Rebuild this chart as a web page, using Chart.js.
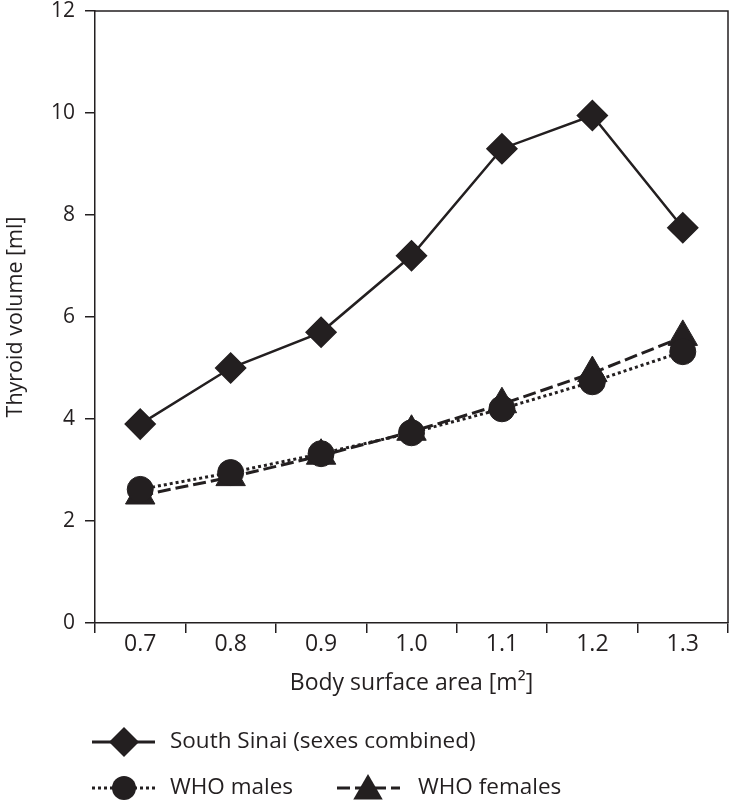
<!DOCTYPE html>
<html>
<head>
<meta charset="utf-8">
<script src="https://cdn.jsdelivr.net/npm/chart.js@4.4.1/dist/chart.umd.min.js"></script>
<style>
  html, body { margin: 0; padding: 0; background: #fff; }
  #wrap { width: 730px; height: 801px; }
</style>
</head>
<body>
<div id="wrap"><canvas id="chart-1"></canvas></div>
<script>
const bsa = ['0.7', '0.8', '0.9', '1.0', '1.1', '1.2', '1.3'];
const southSinai = [3.9, 5.0, 5.7, 7.2, 9.3, 9.95, 7.75];
const whoMales = [2.62, 2.95, 3.32, 3.73, 4.2, 4.73, 5.32];
const whoFemales = [2.5, 2.86, 3.28, 3.75, 4.29, 4.9, 5.61];
const legendNames = ['South Sinai (sexes combined)', 'WHO males', 'WHO females'];

const ink = '#231f20';
Chart.defaults.font.family = "'Open Sans', sans-serif";
Chart.defaults.color = ink;

// top and right edges of the frame
const frame = {
  id: 'frame',
  afterDraw(chart) {
    const a = chart.chartArea, c = chart.ctx;
    c.save();
    c.strokeStyle = ink;
    c.lineWidth = 1.5;
    c.beginPath();
    c.moveTo(a.left, a.top);
    c.lineTo(a.right, a.top);
    c.lineTo(a.right, a.bottom);
    c.stroke();
    c.restore();
  }
};

function sample(c, x1, x2, y, dash) {
  c.beginPath();
  c.setLineDash(dash);
  c.lineWidth = 3;
  c.moveTo(x1, y);
  c.lineTo(x2, y);
  c.stroke();
  c.setLineDash([]);
}

// legend in two rows, drawn by hand
const legendRows = {
  id: 'legendRows',
  afterDraw(chart) {
    const c = chart.ctx;
    c.save();
    c.fillStyle = ink;
    c.strokeStyle = ink;
    c.font = "22.5px 'Open Sans', sans-serif";
    c.textBaseline = 'middle';

    let y = 742;
    sample(c, 92, 155, y, []);
    c.beginPath();
    c.moveTo(124 - 15, y); c.lineTo(124, y - 15); c.lineTo(124 + 15, y); c.lineTo(124, y + 15);
    c.closePath(); c.fill();
    c.fillText(legendNames[0], 170, y);

    y = 788;
    sample(c, 92, 157, y, [3, 3]);
    c.beginPath();
    c.arc(124, y, 12, 0, Math.PI * 2);
    c.fill();
    c.fillText(legendNames[1], 170, y);

    sample(c, 337, 400, y, [13, 5]);
    const r = 17, cx = 368, cy = y + 3;
    c.beginPath();
    c.moveTo(cx, cy - r);
    c.lineTo(cx + r * 0.866, cy + r / 2);
    c.lineTo(cx - r * 0.866, cy + r / 2);
    c.closePath(); c.fill();
    c.fillText(legendNames[2], 418, y);
    c.restore();
  }
};

const ctx1 = document.getElementById('chart-1').getContext('2d');

const myChart = new Chart(ctx1, {
  type: 'line',
  data: {
    labels: bsa,
    datasets: [{
      label: legendNames[0],
      data: southSinai,
      borderColor: ink,
      backgroundColor: ink,
      borderWidth: 2.5,
      pointStyle: 'rectRot',
      pointRadius: 15,
      pointBorderWidth: 1.5,
      tension: 0
    }, {
      label: legendNames[1],
      data: whoMales,
      borderColor: ink,
      backgroundColor: ink,
      borderWidth: 3,
      borderDash: [3, 3],
      pointStyle: 'circle',
      pointRadius: 13,
      pointBorderWidth: 1,
      tension: 0
    }, {
      label: legendNames[2],
      data: whoFemales,
      borderColor: ink,
      backgroundColor: ink,
      borderWidth: 3,
      borderDash: [13, 5],
      pointStyle: 'triangle',
      pointRadius: 17,
      pointBorderWidth: 1,
      tension: 0
    }]
  },
  options: {
    responsive: true,
    maintainAspectRatio: false,
    animation: false,
    layout: { autoPadding: false, padding: { left: 0, right: 2, top: 11, bottom: 98 } },
    plugins: {
      legend: { display: false },
      tooltip: { enabled: false }
    },
    scales: {
      x: {
        offset: true,
        grid: { offset: true, drawOnChartArea: false, drawTicks: true, tickLength: 10, color: ink, lineWidth: 1.5 },
        border: { display: true, color: ink, width: 1.5 },
        ticks: { font: { size: 23 }, padding: -2, maxRotation: 0 },
        title: { display: true, text: 'Body surface area [m²]', font: { size: 23 }, padding: { top: 4, bottom: 6 } },
        afterFit(scale) { scale.height = 80; }
      },
      y: {
        min: 0,
        max: 12,
        ticks: { stepSize: 2, font: { size: 21 }, padding: 10 },
        grid: { drawOnChartArea: false, drawTicks: true, tickLength: 10, color: ink, lineWidth: 1.5 },
        border: { display: true, color: ink, width: 1.5 },
        title: { display: true, text: 'Thyroid volume [ml]', font: { size: 21.5 }, padding: { top: 3, bottom: 4 } },
        afterFit(scale) {
          scale.width = 95;
          scale.paddingTop = 0;
          scale.paddingBottom = 0;
        }
      }
    }
  },
  plugins: [frame, legendRows]
});
</script>
</body>
</html>
